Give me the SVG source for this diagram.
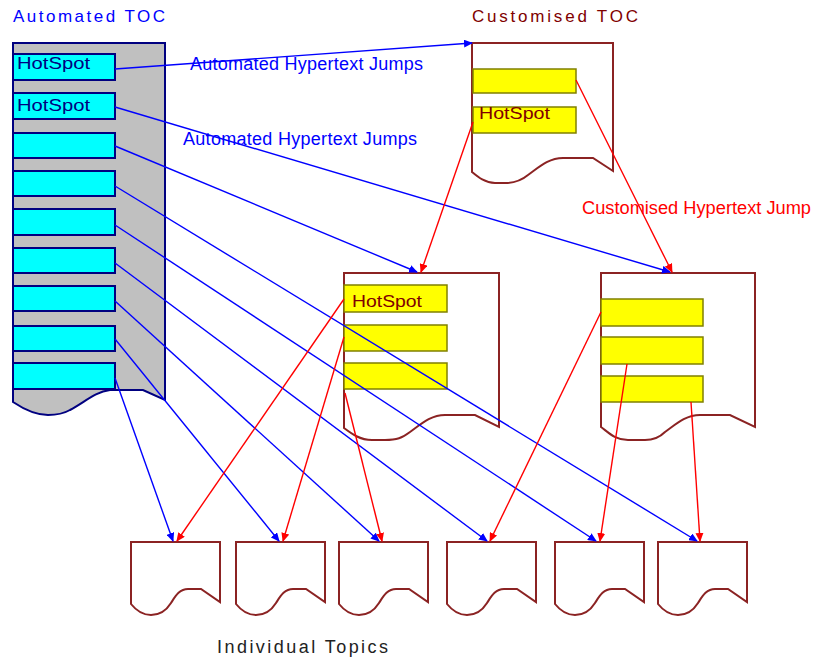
<svg xmlns="http://www.w3.org/2000/svg" width="815" height="657" viewBox="0 0 815 657">
<style>
text{font-family:"Liberation Sans",Arial,sans-serif}
.doc{fill:#fff;stroke:#8B2323;stroke-width:2}
.toc{fill:#c0c0c0;stroke:#000080;stroke-width:2}
.cy{fill:#00ffff;stroke:#000080;stroke-width:2}
.ye{fill:#ffff00;stroke:#808000;stroke-width:1.5}
.hs{font-size:16px}
.b{stroke:#0000ff;stroke-width:1.4;fill:none;marker-end:url(#ab)}
.r{stroke:#ff0000;stroke-width:1.4;fill:none;marker-end:url(#ar)}
.lb{font-size:18px;fill:#0000ff}
</style>
<defs>
<marker id="ab" markerUnits="userSpaceOnUse" markerWidth="9" markerHeight="8" refX="8" refY="4" orient="auto"><path d="M0,0 L9,4 L0,8 z" fill="#0000ff"/></marker>
<marker id="ar" markerUnits="userSpaceOnUse" markerWidth="9" markerHeight="8" refX="8" refY="4" orient="auto"><path d="M0,0 L9,4 L0,8 z" fill="#ff0000"/></marker>
<path id="topic" d="M0,62 V0 H89 V60 L70,47 H57 C48,47 44,55 40,61 C35,69 28,73 20,73 C10,73 4,67 0,62 Z"/>
</defs>
<rect width="815" height="657" fill="#fff"/>

<g id="automated-toc">
<text x="13" y="22" font-size="17" fill="#0000ff" textLength="152" lengthAdjust="spacing">Automated  TOC</text>
<path class="toc" d="M13,402 V43 H165 V400 L143,390 H110 C95,392 85,402 70,410 C63,414 55,415 48,415 C35,415 22,408 13,402 Z"/>
<rect class="cy" x="13" y="54" width="102" height="26"/>
<text class="hs" x="17" y="69" fill="#000080" textLength="73" lengthAdjust="spacingAndGlyphs">HotSpot</text>
<rect class="cy" x="13" y="93" width="102" height="26"/>
<text class="hs" x="17" y="111" fill="#000080" textLength="73" lengthAdjust="spacingAndGlyphs">HotSpot</text>
<rect class="cy" x="13" y="133" width="102" height="25"/>
<rect class="cy" x="13" y="171" width="102" height="25"/>
<rect class="cy" x="13" y="209" width="102" height="26"/>
<rect class="cy" x="13" y="248" width="102" height="25"/>
<rect class="cy" x="13" y="286" width="102" height="25"/>
<rect class="cy" x="13" y="326" width="102" height="25"/>
<rect class="cy" x="13" y="363" width="102" height="26"/>
</g>

<g id="customised-toc">
<text x="472" y="22" font-size="17" fill="#800000" textLength="166" lengthAdjust="spacing">Customised  TOC</text>
<path class="doc" d="M472,172 V43 H613 V171 L593,158 H563 C548,158 538,168 528,175 C522,180 515,183 505,183 H495 C485,183 478,177 472,172 Z"/>
<rect class="ye" x="473" y="69" width="103" height="24"/>
<rect class="ye" x="473" y="107" width="103" height="26"/>
<text class="hs" x="479" y="119" fill="#800000" textLength="71" lengthAdjust="spacingAndGlyphs">HotSpot</text>
</g>

<g id="topic-a">
<path class="doc" d="M344,428 V273 H499 V427 L475,415 H445 C430,415 420,425 410,432 C402,438 397,440 385,440 H372 C360,440 352,434 344,428 Z"/>
<rect class="ye" x="344" y="285" width="103" height="27"/>
<text class="hs" x="352" y="307" fill="#800000" textLength="70" lengthAdjust="spacingAndGlyphs">HotSpot</text>
<rect class="ye" x="344" y="325" width="103" height="26"/>
<rect class="ye" x="344" y="363" width="103" height="26"/>
</g>

<g id="topic-b">
<path class="doc" d="M601,427 V273 H755 V427 L730,415 H700 C685,415 675,425 665,432 C660,437 655,440 645,440 H628 C615,440 608,432 601,427 Z"/>
<rect class="ye" x="601" y="299" width="102" height="27"/>
<rect class="ye" x="601" y="337" width="102" height="27"/>
<rect class="ye" x="601" y="376" width="102" height="26"/>
</g>

<g id="topic-1"><use href="#topic" class="doc" x="131" y="542"/></g>
<g id="topic-2"><use href="#topic" class="doc" x="236" y="542"/></g>
<g id="topic-3"><use href="#topic" class="doc" x="339" y="542"/></g>
<g id="topic-4"><use href="#topic" class="doc" x="447" y="542"/></g>
<g id="topic-5"><use href="#topic" class="doc" x="555" y="542"/></g>
<g id="topic-6"><use href="#topic" class="doc" x="658" y="542"/></g>

<g id="connectors">
<line class="b" x1="115" y1="69" x2="472" y2="43"/>
<line class="b" x1="115" y1="107" x2="670" y2="272"/>
<line class="b" x1="115" y1="146" x2="417" y2="272"/>
<line class="b" x1="115" y1="186" x2="697" y2="541"/>
<line class="b" x1="115" y1="225" x2="596" y2="541"/>
<line class="b" x1="115" y1="263" x2="487" y2="541"/>
<line class="b" x1="115" y1="301" x2="379" y2="541"/>
<line class="b" x1="115" y1="339" x2="279" y2="541"/>
<line class="b" x1="115" y1="378" x2="173" y2="541"/>
<line class="r" x1="576" y1="80" x2="672" y2="272"/>
<line class="r" x1="473" y1="122" x2="421" y2="272"/>
<line class="r" x1="344" y1="299" x2="177" y2="541"/>
<line class="r" x1="344" y1="337" x2="283" y2="541"/>
<line class="r" x1="345" y1="393" x2="382" y2="541"/>
<line class="r" x1="601" y1="312" x2="490" y2="541"/>
<line class="r" x1="627" y1="364" x2="600" y2="541"/>
<line class="r" x1="691" y1="402" x2="700" y2="541"/>
</g>

<g id="labels">
<text class="lb" x="190" y="70" textLength="233" lengthAdjust="spacing">Automated Hypertext Jumps</text>
<text class="lb" x="183" y="145" textLength="234" lengthAdjust="spacing">Automated Hypertext Jumps</text>
<text x="582" y="214" font-size="18" fill="#ff0000" textLength="229" lengthAdjust="spacingAndGlyphs">Customised Hypertext Jump</text>
<text x="217" y="653" font-size="18" fill="#222" textLength="171" lengthAdjust="spacing">Individual  Topics</text>
</g>
</svg>
